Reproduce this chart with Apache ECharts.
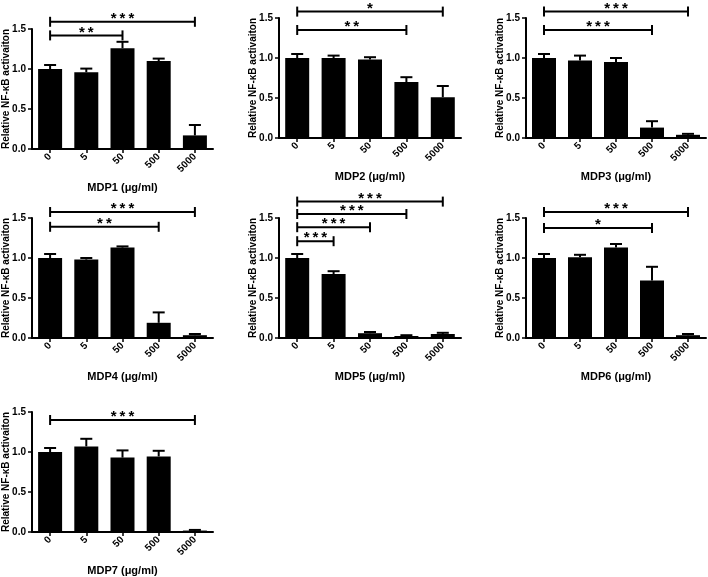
<!DOCTYPE html>
<html>
<head>
<meta charset="utf-8">
<script src="https://cdn.jsdelivr.net/npm/echarts@6/dist/echarts.min.js"></script>
<style>
html,body{margin:0;padding:0;background:#fff;}
#c{width:708px;height:577px;}
</style>
</head>
<body>
<div id="c"></div>
<script>
// ---- data ----
const categories = ['0', '5', '50', '500', '5000'];
const yTicks = [0, 0.5, 1.0, 1.5];
const yTitle = 'Relative NF-\u03baB activaiton';

const mdp1Mean = [1.00, 0.96, 1.26, 1.10, 0.17];
const mdp1Sem  = [0.05, 0.045, 0.08, 0.03, 0.13];
const mdp1Cmp  = [[0, 2, 1.42, '**'], [0, 4, 1.59, '***']];

const mdp2Mean = [1.00, 1.00, 0.98, 0.70, 0.51];
const mdp2Sem  = [0.05, 0.03, 0.03, 0.06, 0.14];
const mdp2Cmp  = [[0, 3, 1.35, '**'], [0, 4, 1.58, '*']];

const mdp3Mean = [1.00, 0.97, 0.95, 0.13, 0.04];
const mdp3Sem  = [0.05, 0.06, 0.05, 0.08, 0.012];
const mdp3Cmp  = [[0, 3, 1.35, '***'], [0, 4, 1.58, '***']];

const mdp4Mean = [1.00, 0.98, 1.13, 0.19, 0.035];
const mdp4Sem  = [0.05, 0.02, 0.015, 0.13, 0.015];
const mdp4Cmp  = [[0, 3, 1.39, '**'], [0, 4, 1.575, '***']];

const mdp5Mean = [1.00, 0.80, 0.06, 0.025, 0.05];
const mdp5Sem  = [0.05, 0.035, 0.015, 0.01, 0.015];
const mdp5Cmp  = [[0, 1, 1.21, '***'], [0, 2, 1.385, '***'], [0, 3, 1.55, '***'], [0, 4, 1.705, '***']];

const mdp6Mean = [1.00, 1.01, 1.13, 0.72, 0.035];
const mdp6Sem  = [0.05, 0.03, 0.045, 0.17, 0.015];
const mdp6Cmp  = [[0, 3, 1.375, '*'], [0, 4, 1.575, '***']];

const mdp7Mean = [1.00, 1.07, 0.93, 0.945, 0.018];
const mdp7Sem  = [0.05, 0.095, 0.09, 0.07, 0.008];
const mdp7Cmp  = [[0, 4, 1.40, '***']];

const panelNames = ['MDP1 (\u03bcg/ml)', 'MDP2 (\u03bcg/ml)', 'MDP3 (\u03bcg/ml)', 'MDP4 (\u03bcg/ml)',
                    'MDP5 (\u03bcg/ml)', 'MDP6 (\u03bcg/ml)', 'MDP7 (\u03bcg/ml)'];
const panelMeans = [mdp1Mean, mdp2Mean, mdp3Mean, mdp4Mean, mdp5Mean, mdp6Mean, mdp7Mean];
const panelSems  = [mdp1Sem, mdp2Sem, mdp3Sem, mdp4Sem, mdp5Sem, mdp6Sem, mdp7Sem];
const panelCmps  = [mdp1Cmp, mdp2Cmp, mdp3Cmp, mdp4Cmp, mdp5Cmp, mdp6Cmp, mdp7Cmp];

// ---- layout ----
const gridBoxes = [
  {left: 32,  top: 29,  width: 181, height: 120},
  {left: 279, top: 18,  width: 182, height: 120},
  {left: 526, top: 18,  width: 180, height: 120},
  {left: 32,  top: 218, width: 181, height: 120},
  {left: 279, top: 218, width: 182, height: 120},
  {left: 526, top: 218, width: 180, height: 120},
  {left: 32,  top: 412, width: 181, height: 120}
];

const FONT = 'Arial, "Liberation Sans", Helvetica, sans-serif';
const BLACK = '#000';

const grids = [], xAxes = [], yAxes = [], series = [];

gridBoxes.forEach((g, i) => {
  grids.push(Object.assign({containLabel: false, outerBoundsMode: 'none'}, g));
  xAxes.push({
    type: 'category', gridIndex: i, data: categories, boundaryGap: true,
    name: panelNames[i], nameLocation: 'middle', nameGap: 33, nameMoveOverlap: false,
    nameTextStyle: {fontFamily: FONT, fontWeight: 'bold', fontSize: 11, color: BLACK},
    axisLine: {lineStyle: {color: BLACK, width: 2}},
    axisTick: {show: true, alignWithLabel: true, length: 4, lineStyle: {color: BLACK, width: 1.5}},
    axisLabel: {rotate: 45, margin: 6, fontFamily: FONT, fontWeight: 'bold', fontSize: 10, color: BLACK, interval: 0},
    splitLine: {show: false}
  });
  yAxes.push({
    type: 'value', gridIndex: i, min: yTicks[0], max: yTicks[yTicks.length - 1], interval: yTicks[1] - yTicks[0],
    name: yTitle, nameLocation: 'middle', nameGap: 21, nameRotate: 90, nameMoveOverlap: false,
    nameTextStyle: {fontFamily: FONT, fontWeight: 'bold', fontSize: 10, color: BLACK},
    axisLine: {show: true, lineStyle: {color: BLACK, width: 2}},
    axisTick: {show: true, length: 4, lineStyle: {color: BLACK, width: 1.5}},
    axisLabel: {margin: 6, fontFamily: FONT, fontWeight: 'bold', fontSize: 10, color: BLACK,
                formatter: v => v.toFixed(1)},
    splitLine: {show: false}
  });

  const means = panelMeans[i], sems = panelSems[i], cmps = panelCmps[i];

  series.push({
    type: 'bar', xAxisIndex: i, yAxisIndex: i, data: means,
    barWidth: 24, itemStyle: {color: BLACK}, silent: true, animation: false
  });

  series.push({
    type: 'custom', xAxisIndex: i, yAxisIndex: i, animation: false, silent: true, z: 5,
    encode: {x: 0, y: 1},
    data: means.map((m, k) => [k, m, sems[k]]),
    renderItem: (params, api) => {
      const k = api.value(0), m = api.value(1), s = api.value(2);
      const base = api.coord([k, m]);
      const top = api.coord([k, m + s]);
      return {
        type: 'group', children: [
          {type: 'line', shape: {x1: base[0], y1: base[1], x2: top[0], y2: top[1]},
           style: {stroke: BLACK, lineWidth: 2}},
          {type: 'line', shape: {x1: top[0] - 6, y1: top[1], x2: top[0] + 6, y2: top[1]},
           style: {stroke: BLACK, lineWidth: 2}}
        ]
      };
    }
  });

  series.push({
    type: 'custom', xAxisIndex: i, yAxisIndex: i, animation: false, silent: true, z: 6,
    clip: false, encode: {x: 0, y: 2},
    data: cmps.map(c => [c[0], c[1], c[2]]),
    renderItem: (params, api) => {
      const a = api.coord([api.value(0), api.value(2)]);
      const b = api.coord([api.value(1), api.value(2)]);
      const y = a[1];
      const stars = cmps[params.dataIndex][3].split('').join('\u2009');
      return {
        type: 'group', children: [
          {type: 'line', shape: {x1: a[0], y1: y, x2: b[0], y2: y}, style: {stroke: BLACK, lineWidth: 2}},
          {type: 'line', shape: {x1: a[0], y1: y - 5, x2: a[0], y2: y + 5}, style: {stroke: BLACK, lineWidth: 2}},
          {type: 'line', shape: {x1: b[0], y1: y - 5, x2: b[0], y2: y + 5}, style: {stroke: BLACK, lineWidth: 2}},
          {type: 'text', style: {text: stars, x: (a[0] + b[0]) / 2, y: y - 3,
            align: 'center', verticalAlign: 'middle',
            font: 'bold 15px ' + FONT, fill: BLACK}}
        ]
      };
    }
  });
});

const chart = echarts.init(document.getElementById('c'), null, {renderer: 'canvas'});
chart.setOption({
  backgroundColor: '#fff',
  animation: false,
  grid: grids, xAxis: xAxes, yAxis: yAxes, series: series
});
</script>
</body>
</html>
